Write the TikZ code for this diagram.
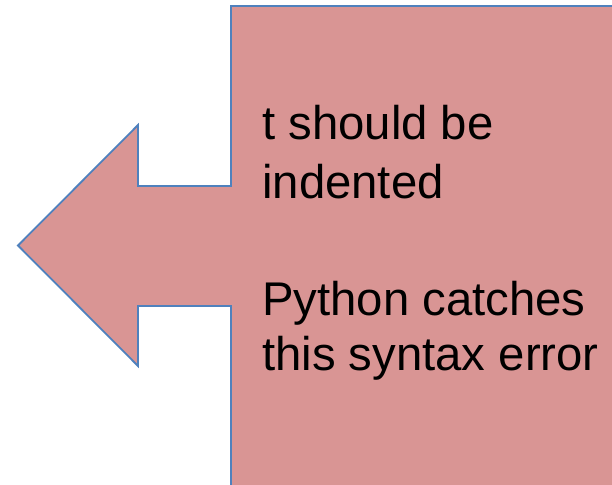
\documentclass[tikz,border=0pt]{standalone}
\usepackage{fontspec}
\setmainfont{Liberation Sans}
\usetikzlibrary{positioning}

\definecolor{calloutfill}{HTML}{D99594}
\definecolor{calloutedge}{HTML}{4F81BD}

\tikzset{
  callout/.style={fill=calloutfill, draw=calloutedge, line width=1.8pt, line join=miter},
  msg/.style={anchor=base west, inner sep=0pt, font=\fontsize{47.3}{57}\selectfont}
}

\begin{document}
\begin{tikzpicture}[x=1pt,y=-1pt]
\useasboundingbox (0,0) rectangle (612,484);
\clip (0,0) rectangle (612,484);
% left arrow callout
\draw[callout] (231,6) -- (650,6) -- (650,520) -- (231,520) -- (231,306)
    -- (138,306) -- (138,366) -- (18,245.5) -- (138,125) -- (138,186)
    -- (231,186) -- cycle;
\node[msg] (l1) at (262,139) {t should be};
\node[msg] (l2) at (262,198) {indented};
\node[msg] (l3) at (262,315) {Python catches};
\node[msg] (l4) at (262,370) {this syntax error};
\end{tikzpicture}
\end{document}
